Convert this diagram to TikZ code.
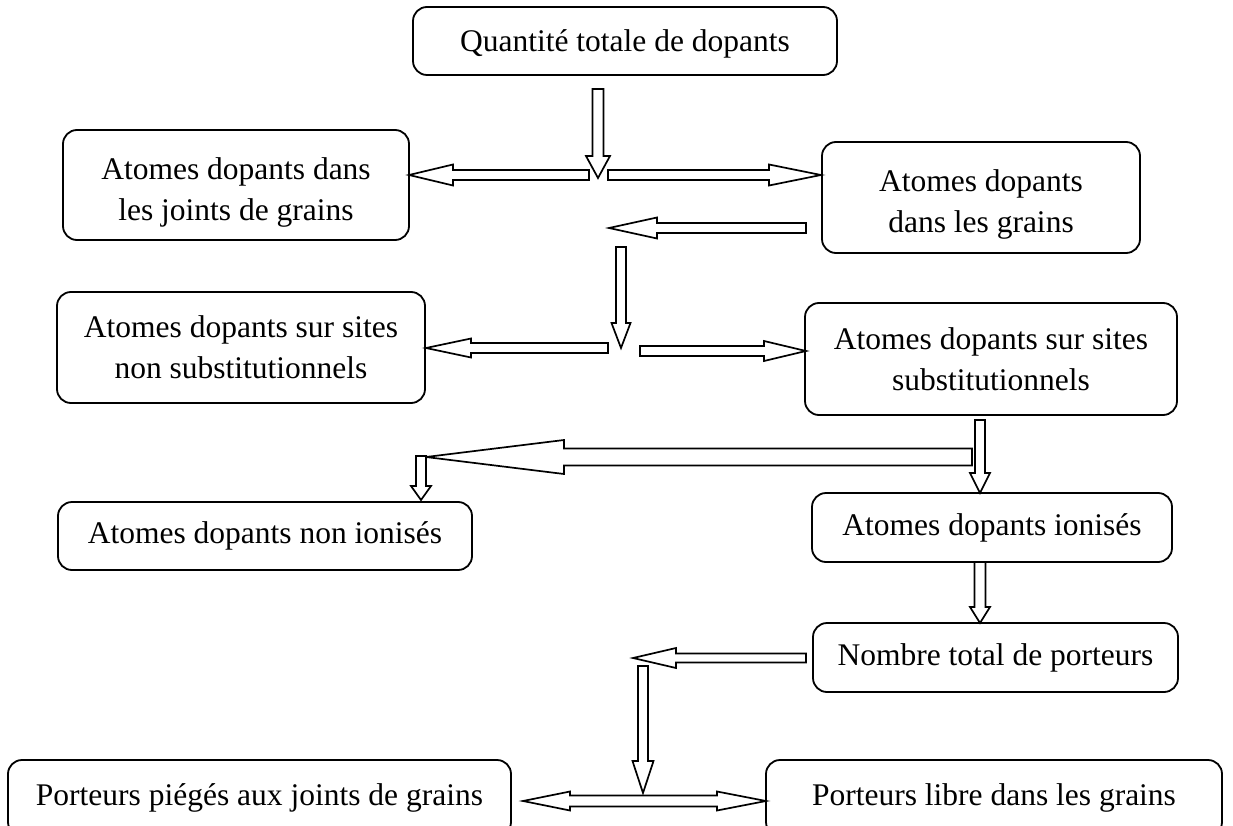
\documentclass[tikz,border=0pt]{standalone}
\usepackage{fontspec}
\setmainfont{Liberation Serif}
\usetikzlibrary{calc}
\tikzset{
  boxfont/.style={font=\fontsize{31.5}{41}\selectfont, align=center},
  box/.style={draw, line width=1.8pt, rounded corners=14pt, inner sep=0pt, boxfont},
  lowtext/.style 2 args={label={[boxfont, inner sep=0pt, yshift=-#1]center:#2}},
  arrowline/.style={draw, line width=1.7pt, fill=white, line join=miter},
}
% #1 start, #2 tip, #3 shaft half width, #4 head half width, #5 head length
\newcommand\blockarrow[5]{%
  \path ($(#2)!#5!(#1)$) coordinate (hb);
  \draw[arrowline] ($(#1)!#3!90:(#2)$) -- ($(hb)!#3!-90:(#1)$) -- ($(hb)!#4!-90:(#1)$)
    -- (#2) -- ($(hb)!#4!90:(#1)$) -- ($(hb)!#3!90:(#1)$) -- ($(#1)!#3!-90:(#2)$) -- cycle;
}
\begin{document}
\begin{tikzpicture}[x=1pt,y=-1pt]
\useasboundingbox (0,0) rectangle (1233,826);
\clip (0,0) rectangle (1233,826);
\fill[white] (0,0) rectangle (1233,826);

\node[box, minimum width=424pt, minimum height=68pt, lowtext={3pt}{Quantité totale de dopants}] (top) at (625,41) {};
\node[box, minimum width=346pt, minimum height=110pt, lowtext={7pt}{Atomes dopants dans\\les joints de grains}] (joints) at (236,185) {};
\node[box, minimum width=318pt, minimum height=111pt, lowtext={7pt}{Atomes dopants\\dans les grains}] (grains) at (981,197.5) {};
\node[box, minimum width=368pt, minimum height=111pt] (nonsub) at (241,347.5) {Atomes dopants sur sites\\non substitutionnels};
\node[box, minimum width=372pt, minimum height=112pt] (sub) at (991,359) {Atomes dopants sur sites\\substitutionnels};
\node[box, minimum width=414pt, minimum height=68pt] (nonion) at (265,536) {Atomes dopants non ionisés};
\node[box, minimum width=360pt, minimum height=69pt] (ion) at (992,527.5) {Atomes dopants ionisés};
\node[box, minimum width=365pt, minimum height=69pt] (nombre) at (995.5,657.5) {Nombre total de porteurs};
\node[box, minimum width=503pt, minimum height=76pt] (pieges) at (259.5,798) {Porteurs piégés aux joints de grains};
\node[box, minimum width=456pt, minimum height=76pt] (libre) at (994,798) {Porteurs libre dans les grains};

\blockarrow{598,89}{598,178}{5.5pt}{12pt}{22pt}
\blockarrow{589,175}{409,175}{5pt}{10.5pt}{44pt}
\blockarrow{608,175}{821,175}{5pt}{10.5pt}{52pt}
\blockarrow{806,228}{609,228}{5pt}{10.5pt}{48pt}
\blockarrow{621,247}{621,348}{5pt}{9.5pt}{25pt}
\blockarrow{608,348}{426,348}{5pt}{9.5pt}{45pt}
\blockarrow{640,351}{806,351}{5pt}{10pt}{42pt}
\blockarrow{980,420}{980,493}{5pt}{10pt}{20pt}
\blockarrow{972,457}{426,457}{8.5pt}{17pt}{138pt}
\blockarrow{421,456}{421,500}{5pt}{10pt}{14pt}
\blockarrow{980,562}{980,623}{5.5pt}{10pt}{16pt}
\blockarrow{806,658}{633,658}{4.5pt}{10pt}{43pt}
\blockarrow{643,666}{643,793}{5pt}{10.5pt}{32pt}
\draw[arrowline] (523,801) -- (570,791.5) -- (570,795.5) -- (717,795.5) -- (717,791.5) -- (766,801)
  -- (717,810.5) -- (717,806.5) -- (570,806.5) -- (570,810.5) -- cycle;
\end{tikzpicture}
\end{document}
